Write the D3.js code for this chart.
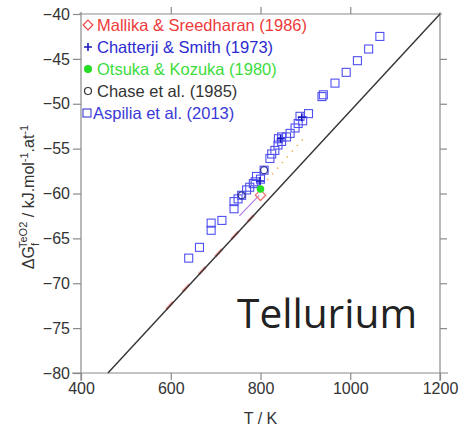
<!DOCTYPE html>
<html>
<head>
<meta charset="utf-8">
<script src="https://cdn.jsdelivr.net/npm/d3@7"></script>
<style>
  body { margin: 0; background: #fff; }
  svg { display: block; font-family: 'Liberation Sans', Arial, sans-serif; }
</style>
</head>
<body>
<svg id="chart" width="461" height="432"></svg>
<script>
// Aspilia et al. (2013)
const aspiliaT = [640, 664, 690, 690, 714, 741, 741, 750, 758, 769, 776, 784, 788, 791, 800, 808, 821, 825, 832, 839, 840, 847, 847, 858, 866, 877, 884, 888, 894, 907, 937, 940, 966, 991, 1016, 1041, 1066];
const aspiliaG = [-67.2, -66.0, -63.3, -64.1, -63.0, -61.7, -60.9, -60.6, -60.2, -59.6, -59.3, -58.9, -58.7, -58.1, -58.4, -57.4, -56.1, -55.6, -55.2, -54.6, -53.9, -54.2, -53.7, -53.7, -53.3, -52.7, -52.2, -51.4, -51.9, -51.1, -49.2, -49.0, -47.7, -46.5, -45.2, -43.9, -42.5];
// Chatterji & Smith (1973)
const chatterjiT = [799, 845, 892];
const chatterjiG = [-58.6, -53.9, -51.5];
// Otsuka & Kozuka (1980)
const otsukaT = [800];
const otsukaG = [-59.5];
// Chase et al. (1985)
const chaseT = [758, 808];
const chaseG = [-60.2, -57.4];
// Mallika & Sreedharan (1986)
const mallikaT = [800];
const mallikaG = [-60.2];
const mallikaLineT = [590, 785];
const mallikaLineG = [-72.9, -62.4];
// other curves
const purpleT = [753, 797];
const purpleG = [-62.5, -60.2];
const dottedT = [815, 895];
const dottedG = [-58.5, -53.9];
const lineT = [460, 1200];
const lineG = [-80, -40];

const xTicks = [400, 600, 800, 1000, 1200];
const yTicks = [-40, -45, -50, -55, -60, -65, -70, -75, -80];

const legendLabels = ['Mallika & Sreedharan (1986)', 'Chatterji & Smith (1973)', 'Otsuka & Kozuka (1980)', 'Chase et al. (1985)', 'Aspilia et al. (2013)'];
const legendColors = ['#ee3a3a', '#2b2bd0', '#3ddc3d', '#333333', '#3a3ad6'];

const svg = d3.select('#chart');
const pLeft = 81, pRight = 440, pTop = 14, pBottom = 373;

const x = d3.scaleLinear().domain([400, 1200]).range([pLeft, pRight]);
const y = d3.scaleLinear().domain([-80, -40]).range([pBottom, pTop]);

const axisColor = '#8a8a8a';

// frame
const frame = svg.append('g').attr('stroke', axisColor).attr('stroke-width', 1.2);
frame.append('line').attr('x1', pLeft).attr('x2', pLeft).attr('y1', pTop - 2).attr('y2', pBottom + 8);
frame.append('line').attr('x1', pRight).attr('x2', pRight).attr('y1', pTop - 2).attr('y2', pBottom + 8);
frame.append('line').attr('x1', pLeft - 9).attr('x2', pRight + 8).attr('y1', pBottom).attr('y2', pBottom);
frame.append('line').attr('x1', pLeft - 2).attr('x2', pRight + 2).attr('y1', pTop).attr('y2', pTop);

const styleAxis = g => {
  g.select('.domain').remove();
  g.selectAll('.tick line').attr('stroke', axisColor).attr('stroke-width', 1.2);
  g.selectAll('.tick text').attr('fill', '#333').attr('font-size', 16);
};

svg.append('g')
  .attr('transform', `translate(0,${pBottom})`)
  .call(d3.axisBottom(x).tickValues(xTicks).tickSize(7).tickPadding(3).tickFormat(d3.format('d')))
  .call(styleAxis);
svg.append('g')
  .attr('transform', `translate(0,${pTop})`)
  .call(d3.axisTop(x).tickValues(xTicks.slice(1, 4)).tickSize(7).tickFormat(''))
  .call(styleAxis);
svg.append('g')
  .attr('transform', `translate(${pLeft},0)`)
  .call(d3.axisLeft(y).tickValues(yTicks).tickSize(8).tickPadding(3).tickFormat(d3.format('d')))
  .call(styleAxis);
svg.append('g')
  .attr('transform', `translate(${pRight},0)`)
  .call(d3.axisRight(y).tickValues(yTicks.slice(1, 8)).tickSize(7).tickFormat(''))
  .call(styleAxis);

// axis titles
svg.append('text')
  .attr('x', x(800)).attr('y', 424)
  .attr('text-anchor', 'middle').attr('font-size', 16).attr('fill', '#333')
  .text('T / K');

const yl = svg.append('text')
  .attr('transform', 'translate(34,197) rotate(-90)')
  .attr('text-anchor', 'middle').attr('font-size', 16).attr('fill', '#333');
yl.append('tspan').text('ΔG');
yl.append('tspan').attr('font-size', 11).attr('dy', 5).text('f');
yl.append('tspan').attr('font-size', 11).attr('dx', -5).attr('dy', -12).text('TeO2');
yl.append('tspan').attr('dy', 7).text(' / kJ.mol');
yl.append('tspan').attr('font-size', 11).attr('dy', -6).text('-1');
yl.append('tspan').attr('dy', 6).text('.at');
yl.append('tspan').attr('font-size', 11).attr('dy', -6).text('-1');

const plot = svg.append('g');
const line = d3.line();

// Mallika curve under black line
plot.append('path')
  .attr('d', line(mallikaLineT.map((t, i) => [x(t), y(mallikaLineG[i])])))
  .attr('fill', 'none').attr('stroke', '#f06a6a').attr('stroke-width', 2.6)
  .attr('stroke-dasharray', '10,14').attr('opacity', 0.7);

plot.append('path')
  .attr('d', line(lineT.map((t, i) => [x(t), y(lineG[i])])))
  .attr('fill', 'none').attr('stroke', '#333').attr('stroke-width', 1.4);

plot.append('path')
  .attr('d', line(purpleT.map((t, i) => [x(t), y(purpleG[i])])))
  .attr('fill', 'none').attr('stroke', '#b47ae8').attr('stroke-width', 1.2);

plot.append('path')
  .attr('d', line(dottedT.map((t, i) => [x(t), y(dottedG[i])])))
  .attr('fill', 'none').attr('stroke', '#f0b060').attr('stroke-width', 1.5)
  .attr('stroke-dasharray', '1.5,6');

// Aspilia squares
plot.selectAll('rect.asp')
  .data(aspiliaT.map((t, i) => [t, aspiliaG[i]]))
  .join('rect')
  .attr('class', 'asp')
  .attr('x', d => x(d[0]) - 4).attr('y', d => y(d[1]) - 4)
  .attr('width', 8).attr('height', 8)
  .attr('fill', 'none').attr('stroke', '#5050f0').attr('stroke-width', 1.1);

// Chase circles
plot.selectAll('circle.chase')
  .data(chaseT.map((t, i) => [t, chaseG[i]]))
  .join('circle')
  .attr('class', 'chase')
  .attr('cx', d => x(d[0])).attr('cy', d => y(d[1])).attr('r', 3.5)
  .attr('fill', 'none').attr('stroke', '#333399').attr('stroke-width', 1.3);

// Mallika diamond
const diamond = d3.symbol().type(d3.symbolDiamond2).size(70);
plot.selectAll('path.mal')
  .data(mallikaT.map((t, i) => [t, mallikaG[i]]))
  .join('path')
  .attr('class', 'mal')
  .attr('transform', d => `translate(${x(d[0])},${y(d[1])})`)
  .attr('d', diamond)
  .attr('fill', 'none').attr('stroke', '#f07070').attr('stroke-width', 1.2);

// Otsuka dot
plot.selectAll('circle.ots')
  .data(otsukaT.map((t, i) => [t, otsukaG[i]]))
  .join('circle')
  .attr('class', 'ots')
  .attr('cx', d => x(d[0])).attr('cy', d => y(d[1])).attr('r', 3.8)
  .attr('fill', '#22dd22');

// Chatterji plus (thin)
const plusPath = 'M-4,0H4M0,-4V4';
plot.selectAll('path.cha')
  .data(chatterjiT.map((t, i) => [t, chatterjiG[i]]))
  .join('path')
  .attr('class', 'cha')
  .attr('transform', d => `translate(${x(d[0])},${y(d[1])})`)
  .attr('d', plusPath)
  .attr('stroke', '#1a1ac0').attr('stroke-width', 1.6);

// legend
const lg = svg.append('g').attr('font-size', 16.5);
const rowY = [25, 47, 69, 91, 113];
legendLabels.forEach((lab, i) => {
  lg.append('text')
    .attr('x', i === 4 ? 93 : 97).attr('y', rowY[i] + 6)
    .attr('fill', legendColors[i]).text(lab);
});
lg.append('path').attr('transform', `translate(88,${rowY[0]})`)
  .attr('d', d3.symbol().type(d3.symbolDiamond2).size(60))
  .attr('fill', 'none').attr('stroke', '#ee4444').attr('stroke-width', 1.2);
lg.append('path').attr('transform', `translate(88,${rowY[1]})`)
  .attr('d', plusPath).attr('stroke', '#1a1ac0').attr('stroke-width', 1.6);
lg.append('circle').attr('cx', 88).attr('cy', rowY[2]).attr('r', 4).attr('fill', '#22dd22');
lg.append('circle').attr('cx', 88).attr('cy', rowY[3]).attr('r', 3.5)
  .attr('fill', 'none').attr('stroke', '#333').attr('stroke-width', 1.2);
lg.append('rect').attr('x', 83).attr('y', rowY[4] - 4).attr('width', 8).attr('height', 8)
  .attr('fill', 'none').attr('stroke', '#3a3ad6').attr('stroke-width', 1.1);

// element label
svg.append('text')
  .attr('x', 237).attr('y', 328)
  .attr('font-family', '"Open Sans", Lato, sans-serif')
  .attr('font-weight', 400)
  .attr('font-size', 40).attr('fill', '#222')
  .attr('textLength', 180).attr('lengthAdjust', 'spacingAndGlyphs')
  .text('Tellurium');
</script>
</body>
</html>
